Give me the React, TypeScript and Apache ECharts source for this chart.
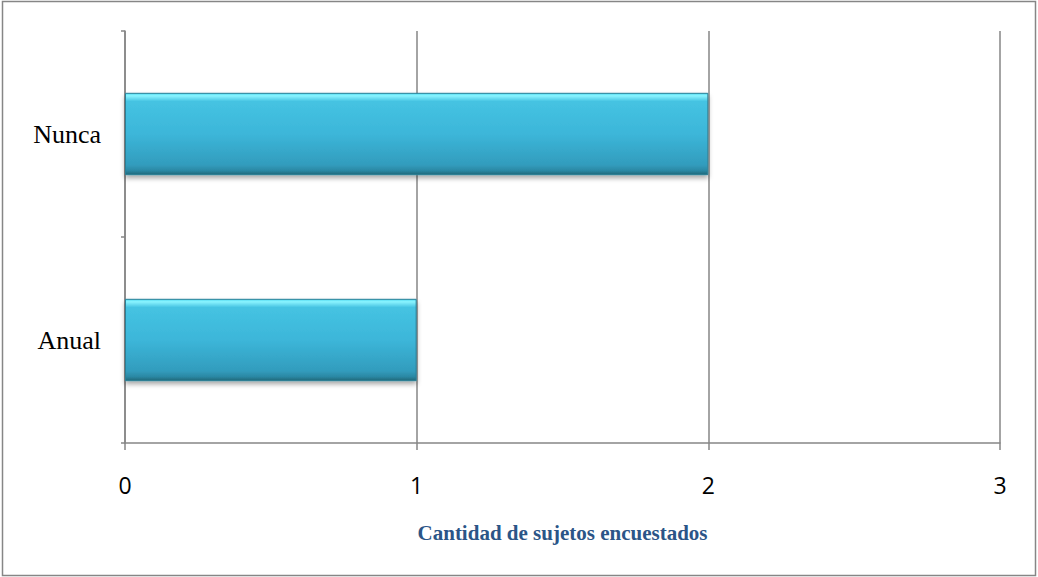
import React, { useEffect, useRef } from "react";
import * as echarts from "echarts";

const categories = ["Anual", "Nunca"];
const counts = [1, 2];
const xTicks = [0, 1, 2, 3];
const axisTitle = "Cantidad de sujetos encuestados";

export default function App() {
  const ref = useRef<HTMLDivElement>(null);

  useEffect(() => {
    document.body.style.margin = "0";
    const chart = echarts.init(ref.current!, null, { renderer: "svg" });
    const grey = "#868686";
    const barFill = new echarts.graphic.LinearGradient(0, 0, 0, 1, [
      { offset: 0, color: "#4fd8f0" },
      { offset: 0.03, color: "#8af4ff" },
      { offset: 0.1, color: "#45c3e2" },
      { offset: 0.5, color: "#3cb6d9" },
      { offset: 0.88, color: "#329cbd" },
      { offset: 0.95, color: "#2b88a4" },
      { offset: 1, color: "#1f6879" },
    ]);
    chart.setOption({
      animation: false,
      backgroundColor: "#ffffff",
      grid: { left: 125, right: 38, top: 31, bottom: 134, containLabel: false },
      graphic: [
        {
          type: "rect",
          shape: { x: 2.5, y: 1.5, width: 1033, height: 574 },
          style: { fill: "none", stroke: grey, lineWidth: 1.5 },
          silent: true,
        },
      ],
      xAxis: {
        type: "value",
        min: xTicks[0],
        max: xTicks[xTicks.length - 1],
        interval: 1,
        axisLine: { show: true, lineStyle: { color: grey, width: 1.5 } },
        axisTick: { show: true, length: 7, lineStyle: { color: grey, width: 1.5 } },
        splitLine: { show: true, lineStyle: { color: grey, width: 1.5 } },
        axisLabel: {
          margin: 30,
          fontFamily: "Open Sans",
          fontSize: 23,
          color: "#000",
        },
        name: axisTitle,
        nameLocation: "middle",
        nameGap: 79,
        nameTextStyle: {
          fontFamily: "Liberation Serif",
          fontWeight: "bold",
          fontSize: 21,
          color: "#2b5587",
        },
      },
      yAxis: {
        type: "category",
        data: categories,
        axisLine: { show: true, lineStyle: { color: grey, width: 1.5 } },
        axisTick: { show: true, length: 4, lineStyle: { color: grey, width: 1.5 } },
        splitLine: { show: false },
        axisLabel: {
          margin: 24,
          fontFamily: "Liberation Serif",
          fontSize: 26,
          color: "#000",
        },
      },
      series: [
        {
          type: "bar",
          data: counts,
          barWidth: "40%",
          itemStyle: {
            color: barFill,
            borderColor: "#2a7f96",
            borderWidth: 1,
            shadowBlur: 5,
            shadowOffsetY: 3,
            shadowColor: "rgba(0,0,0,0.35)",
          },
        },
      ],
    });
    return () => chart.dispose();
  }, []);

  return <div ref={ref} style={{ width: 1038, height: 577 }} />;
}
